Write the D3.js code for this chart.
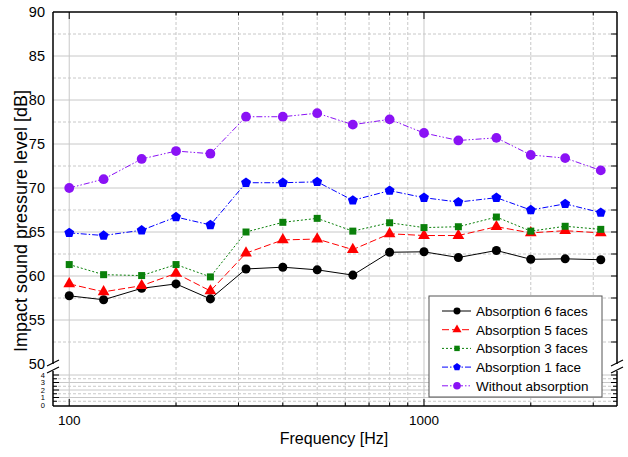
<!DOCTYPE html>
<html>
<head>
    <title>Impact sound pressure level</title>
    <style>
        body { margin: 0; background: #fff; }
        text { font-family: Arial, "Liberation Sans", sans-serif; fill: #000; }
    </style>
</head>
<body>
<script src="https://d3js.org/d3.v7.min.js"></script>
<script>
    var width = 628,
        height = 457;

    // one-third octave band centre frequencies
    var freqs = [100, 125, 160, 200, 250, 315, 400, 500, 630, 800, 1000, 1250, 1600, 2000, 2500, 3150];

    var abs6 = [57.75, 57.3, 58.6, 59.1, 57.4, 60.8, 61.0, 60.7, 60.1, 62.7, 62.75, 62.1, 62.9, 61.9, 61.95, 61.85];
    var abs5 = [59.1, 58.2, 58.9, 60.3, 58.3, 62.6, 64.1, 64.2, 63.0, 64.8, 64.6, 64.6, 65.6, 64.9, 65.15, 64.9];
    var abs3 = [61.3, 60.15, 60.05, 61.3, 59.9, 65.0, 66.1, 66.55, 65.1, 66.05, 65.5, 65.6, 66.7, 65.1, 65.65, 65.3];
    var abs1 = [64.9, 64.6, 65.2, 66.7, 65.8, 70.6, 70.6, 70.7, 68.6, 69.7, 68.9, 68.4, 68.9, 67.5, 68.2, 67.2];
    var noAbs = [70.0, 71.0, 73.3, 74.2, 73.9, 78.1, 78.1, 78.5, 77.2, 77.8, 76.25, 75.4, 75.7, 73.75, 73.4, 72.0];

    var yTicksHi = [50, 55, 60, 65, 70, 75, 80, 85, 90];
    var yTicksLo = [0, 1, 2, 3, 4];
    var xTickLabels = [100, 1000];

    // plot box (note: "top" is reserved on window, so prefixed names)
    var pLeft = 53, pRight = 617, pTop = 12, pBottom = 406,
        breakTop = 364, breakBottom = 371;

    var x = d3.scaleLog().domain([90, 3500]).range([pLeft, pRight]);
    var yHi = d3.scaleLinear().domain([50, 90]).range([breakTop, pTop]);
    var yLo = d3.scaleLinear().domain([0, 4]).range([405, 375]);

    // broken y axis: upper part 50..90, lower part 0..4
    function y(v) {
        return v >= 40 ? yHi(v) : yLo(v);
    }

    // pentagon marker, d3 has no built-in one
    var symbolPentagon = {
        draw: function (ctx, size) {
            var r = Math.sqrt(size / 2.378);
            for (var i = 0; i < 5; i++) {
                var a = -Math.PI / 2 + i * 2 * Math.PI / 5;
                if (i === 0) ctx.moveTo(r * Math.cos(a), r * Math.sin(a));
                else ctx.lineTo(r * Math.cos(a), r * Math.sin(a));
            }
            ctx.closePath();
        }
    };

    var series = [
        {name: 'Absorption 6 faces', values: abs6, color: '#000000', dash: null, symbol: d3.symbolCircle, size: 64},
        {name: 'Absorption 5 faces', values: abs5, color: '#ff0000', dash: '7,3', symbol: d3.symbolTriangle, size: 60},
        {name: 'Absorption 3 faces', values: abs3, color: '#0a800a', dash: '2,2', symbol: d3.symbolSquare, size: 49},
        {name: 'Absorption 1 face', values: abs1, color: '#0000ff', dash: '6,2,1.5,2', symbol: symbolPentagon, size: 64},
        {name: 'Without absorption', values: noAbs, color: '#8a12f5', dash: '6,2,1.5,2,1.5,2', symbol: d3.symbolCircle, size: 75}
    ];

    var svg = d3.select('body').append('svg')
            .attr('width', width)
            .attr('height', height);

    // grid
    var grid = svg.append('g');
    var minorFreqs = [200, 300, 400, 500, 600, 700, 800, 900, 2000, 3000];
    grid.selectAll('.vmaj').data(xTickLabels).enter().append('line')
            .attr('x1', function (d) { return x(d); }).attr('x2', function (d) { return x(d); })
            .attr('y1', pTop).attr('y2', pBottom)
            .attr('stroke', '#c8c8c8').attr('stroke-width', 1);
    grid.selectAll('.vmin').data(minorFreqs).enter().append('line')
            .attr('x1', function (d) { return x(d); }).attr('x2', function (d) { return x(d); })
            .attr('y1', pTop).attr('y2', pBottom)
            .attr('stroke', '#c8c8c8').attr('stroke-width', 1).attr('stroke-dasharray', '3,2');

    var hMajor = yTicksHi.slice(1, -1).concat(yTicksLo.slice(1));
    var hMinor = d3.range(52.5, 90, 5).concat(d3.range(0.5, 4.5, 1));
    grid.selectAll('.hmaj').data(hMajor).enter().append('line')
            .attr('x1', pLeft).attr('x2', pRight)
            .attr('y1', function (d) { return y(d); }).attr('y2', function (d) { return y(d); })
            .attr('stroke', '#c8c8c8').attr('stroke-width', 1);
    grid.selectAll('.hmin').data(hMinor).enter().append('line')
            .attr('x1', pLeft).attr('x2', pRight)
            .attr('y1', function (d) { return y(d); }).attr('y2', function (d) { return y(d); })
            .attr('stroke', '#c8c8c8').attr('stroke-width', 1).attr('stroke-dasharray', '3,2');

    // series lines and markers
    var line = d3.line()
            .x(function (d, i) { return x(freqs[i]); })
            .y(function (d) { return y(d); });

    series.forEach(function (s) {
        svg.append('path')
                .datum(s.values)
                .attr('d', line)
                .attr('fill', 'none')
                .attr('stroke', s.color)
                .attr('stroke-width', 1)
                .attr('stroke-dasharray', s.dash);
        svg.selectAll(null)
                .data(s.values)
                .enter().append('path')
                .attr('d', d3.symbol().type(s.symbol).size(s.size))
                .attr('transform', function (d, i) {
                    return 'translate(' + x(freqs[i]) + ',' + y(d) + ')';
                })
                .attr('fill', s.color);
    });

    // frame and ticks
    var axes = svg.append('g').attr('stroke', '#000').attr('fill', 'none');
    axes.append('line').attr('x1', pLeft).attr('x2', pRight).attr('y1', pTop).attr('y2', pTop).attr('stroke-width', 1.5);
    axes.append('line').attr('x1', pLeft).attr('x2', pRight).attr('y1', pBottom).attr('y2', pBottom).attr('stroke-width', 1.5);
    [pLeft, pRight].forEach(function (xx) {
        axes.append('line').attr('x1', xx).attr('x2', xx).attr('y1', pTop).attr('y2', breakTop).attr('stroke-width', 1.5);
        axes.append('line').attr('x1', xx).attr('x2', xx).attr('y1', breakBottom).attr('y2', pBottom).attr('stroke-width', 1.5);
        // break marks
        [breakTop + 2, breakBottom + 2].forEach(function (yy) {
            axes.append('line').attr('x1', xx - 6).attr('x2', xx + 6)
                    .attr('y1', yy).attr('y2', yy - 6).attr('stroke-width', 1.2);
        });
    });

    var allTickFreqs = xTickLabels.concat(minorFreqs);
    allTickFreqs.forEach(function (f) {
        var len = xTickLabels.indexOf(f) >= 0 ? 7 : 3.5;
        axes.append('line').attr('x1', x(f)).attr('x2', x(f)).attr('y1', pTop).attr('y2', pTop + len);
        axes.append('line').attr('x1', x(f)).attr('x2', x(f)).attr('y1', pBottom).attr('y2', pBottom - len);
    });

    d3.range(52.5, 90, 2.5).forEach(function (v) {
        axes.append('line').attr('x1', pRight).attr('x2', pRight - 6).attr('y1', y(v)).attr('y2', y(v));
    });
    d3.range(0.5, 4.5, 0.5).forEach(function (v) {
        var len = v % 1 === 0 ? 6 : 4;
        axes.append('line').attr('x1', pRight).attr('x2', pRight - len).attr('y1', y(v)).attr('y2', y(v));
        axes.append('line').attr('x1', pLeft).attr('x2', pLeft + len).attr('y1', y(v)).attr('y2', y(v));
    });

    // tick labels
    svg.selectAll('.ylabHi').data(yTicksHi).enter().append('text')
            .attr('x', pLeft - 8).attr('y', function (d) { return y(d); })
            .attr('dy', '0.35em').attr('text-anchor', 'end')
            .style('font-size', '14.5px')
            .text(function (d) { return d; });
    // the lower part is squeezed, so these labels stay small
    svg.selectAll('.ylabLo').data(yTicksLo).enter().append('text')
            .attr('x', pLeft - 8).attr('y', function (d) { return y(d); })
            .attr('dy', '0.35em').attr('text-anchor', 'end')
            .style('font-size', '7.5px')
            .text(function (d) { return d; });
    svg.selectAll('.xlab').data(xTickLabels).enter().append('text')
            .attr('x', function (d) { return x(d); }).attr('y', 425)
            .attr('text-anchor', 'middle')
            .style('font-size', '13.5px')
            .text(function (d) { return d; });

    // axis titles
    svg.append('text')
            .attr('x', 334).attr('y', 444)
            .attr('text-anchor', 'middle')
            .style('font-size', '16px')
            .text('Frequency [Hz]');
    svg.append('text')
            .attr('transform', 'translate(27,221) rotate(-90)')
            .attr('text-anchor', 'middle')
            .style('font-size', '18px')
            .text('Impact sound pressure level [dB]');

    // legend
    var legend = svg.append('g').attr('transform', 'translate(429,296)');
    legend.append('rect')
            .attr('width', 173).attr('height', 101)
            .attr('fill', '#fff').attr('stroke', '#555').attr('stroke-width', 1);
    series.forEach(function (s, i) {
        var g = legend.append('g').attr('transform', 'translate(0,' + (15 + i * 18.7) + ')');
        g.append('line').attr('x1', 13).attr('x2', 42).attr('y1', 0).attr('y2', 0)
                .attr('stroke', s.color).attr('stroke-width', 1).attr('stroke-dasharray', s.dash);
        g.append('path')
                .attr('d', d3.symbol().type(s.symbol).size(s.size * 0.6))
                .attr('transform', 'translate(28,0)')
                .attr('fill', s.color);
        g.append('text').attr('x', 47).attr('dy', '0.36em')
                .style('font-size', '13.5px')
                .text(s.name);
    });
</script>
</body>
</html>
